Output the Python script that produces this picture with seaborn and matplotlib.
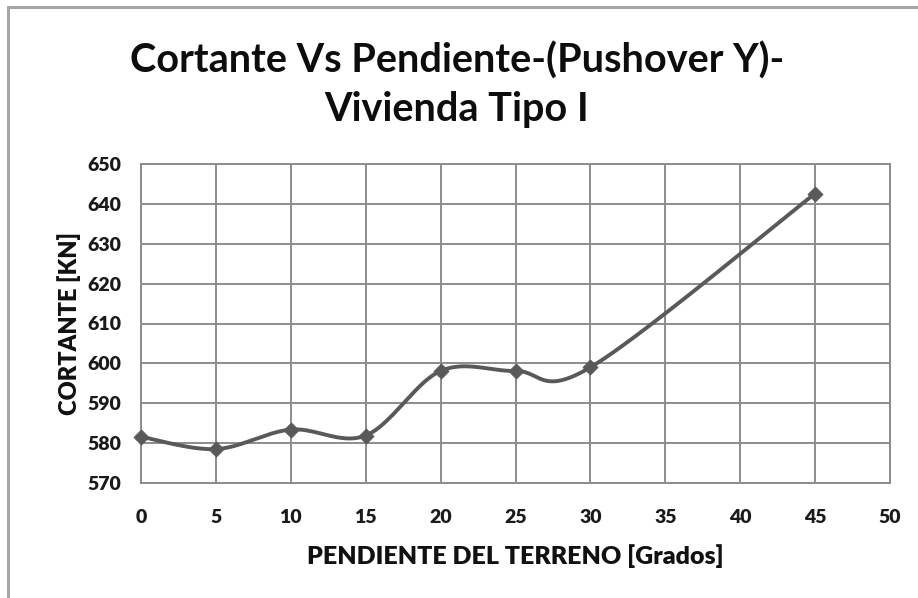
import numpy as np
import pandas as pd
import matplotlib
matplotlib.use("Agg")
import matplotlib.pyplot as plt
import seaborn as sns
from matplotlib.patches import Rectangle

# Data
pendiente = [0, 5, 10, 15, 20, 25, 30, 45]
cortante = [581.6, 578.5, 583.4, 581.9, 598.1, 598.1, 599.0, 642.6]
x_ticks = [0, 5, 10, 15, 20, 25, 30, 35, 40, 45, 50]
y_ticks = [570, 580, 590, 600, 610, 620, 630, 640, 650]

title_lines = ["Cortante Vs Pendiente-(Pushover Y)-", "Vivienda Tipo I"]
x_label = "PENDIENTE DEL TERRENO [Grados]"
y_label = "CORTANTE [KN]"


def smooth_curve(xs, ys, n=40):
    """Catmull-Rom style cubic Bezier smoothing through the points."""
    xs = np.asarray(xs, float)
    ys = np.asarray(ys, float)
    px = np.concatenate([[xs[0]], xs, [xs[-1]]])
    py = np.concatenate([[ys[0]], ys, [ys[-1]]])
    out_x, out_y = [], []
    t = np.linspace(0, 1, n)
    for i in range(1, len(px) - 2):
        p0 = np.array([px[i], py[i]])
        p3 = np.array([px[i + 1], py[i + 1]])
        c1 = p0 + (np.array([px[i + 1], py[i + 1]]) - np.array([px[i - 1], py[i - 1]])) / 6
        c2 = p3 - (np.array([px[i + 2], py[i + 2]]) - np.array([px[i], py[i]])) / 6
        b = ((1 - t) ** 3)[:, None] * p0 + (3 * (1 - t) ** 2 * t)[:, None] * c1 \
            + (3 * (1 - t) * t ** 2)[:, None] * c2 + (t ** 3)[:, None] * p3
        out_x.extend(b[:, 0])
        out_y.extend(b[:, 1])
    return np.array(out_x), np.array(out_y)


sns.set_theme(style="white")
plt.rcParams["font.family"] = ["Lato", "DejaVu Sans"]
plt.rcParams["font.weight"] = 800

fig = plt.figure(figsize=(9.18, 5.98), dpi=100)
fig.patch.set_facecolor("white")

# chart frame
fig.add_artist(Rectangle((8 / 918, -0.1), 1.2, 1.1 - 7 / 598, transform=fig.transFigure,
                         fill=False, edgecolor="#a6a6a6", linewidth=2.2))

ax = fig.add_axes([141 / 918, 1 - 483 / 598, (890 - 141) / 918, (483 - 164) / 598])

sx, sy = smooth_curve(pendiente, cortante)
curve = pd.DataFrame({"x": sx, "y": sy})
pts = pd.DataFrame({"x": pendiente, "y": cortante})

grid_c = "#8c8c8c"
sns.lineplot(data=curve, x="x", y="y", ax=ax, color="#595959", linewidth=2.8,
             sort=False, estimator=None, zorder=3)
sns.scatterplot(data=pts, x="x", y="y", ax=ax, marker="D", s=60, color="#595959",
                edgecolor="#595959", linewidth=0.5, zorder=4, clip_on=False)

ax.set_xlim(0, 50)
ax.set_ylim(570, 650)
ax.set_xticks(x_ticks)
ax.set_yticks(y_ticks)
ax.set_xticklabels([str(v) for v in x_ticks], fontsize=14, fontweight=800, color="#1a1a1a")
ax.set_yticklabels([str(v) for v in y_ticks], fontsize=14, fontweight=800, color="#1a1a1a")
ax.grid(True, color=grid_c, linewidth=1.4)
ax.set_axisbelow(True)
for s in ax.spines.values():
    s.set_color(grid_c)
    s.set_linewidth(1.4)
ax.tick_params(length=0)
ax.tick_params(axis="x", pad=19)
ax.tick_params(axis="y", pad=14)

ax.set_xlabel(x_label, fontsize=18, fontweight=800, color="#111111", labelpad=13)
ax.set_ylabel(y_label, fontsize=17, fontweight=800, color="#111111", labelpad=5)

fig.text(457 / 918, 1 - 73 / 598, title_lines[0], ha="center", va="baseline",
         fontsize=28.5, fontweight="bold", color="#0d0d0d")
fig.text(457 / 918, 1 - 121 / 598, title_lines[1], ha="center", va="baseline",
         fontsize=28.5, fontweight="bold", color="#0d0d0d")

fig.savefig("out.png", dpi=100, facecolor="white")
